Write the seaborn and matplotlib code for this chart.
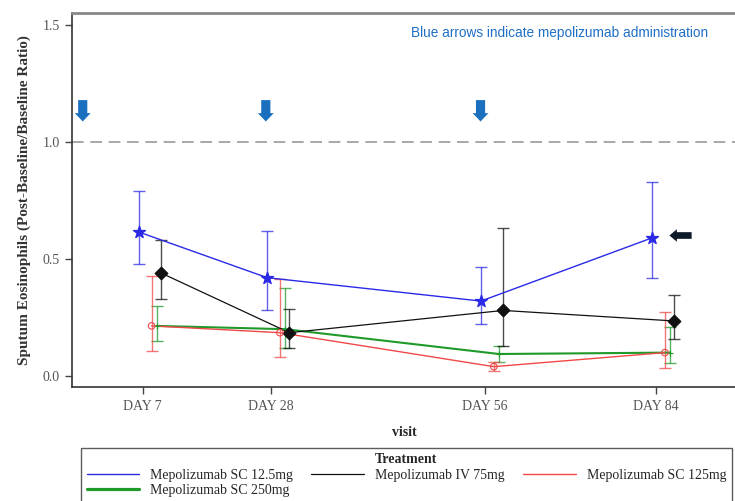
import numpy as np
import pandas as pd
import matplotlib
matplotlib.use("Agg")
import matplotlib.pyplot as plt
import seaborn as sns

# Visits and their positions on the horizontal axis
visits = ["DAY 7", "DAY 28", "DAY 56", "DAY 84"]
visit_pos = [1, 4, 9, 13]

treatments = ["Mepolizumab SC 12.5mg", "Mepolizumab SC 250mg",
              "Mepolizumab IV 75mg", "Mepolizumab SC 125mg"]

# Geometric mean ratio and 95% CI per treatment
sc12_mean = [0.615, 0.42, 0.32, 0.59]
sc12_lo = [0.48, 0.28, 0.22, 0.42]
sc12_hi = [0.79, 0.62, 0.465, 0.83]

sc250_mean = [0.214, 0.20, 0.094, 0.10]
sc250_lo = [0.15, 0.12, 0.06, 0.055]
sc250_hi = [0.30, 0.375, 0.13, 0.21]

iv75_mean = [0.44, 0.185, 0.28, 0.235]
iv75_lo = [0.33, 0.12, 0.128, 0.16]
iv75_hi = [0.58, 0.285, 0.63, 0.346]

sc125_mean = [0.214, 0.185, 0.04, 0.10]
sc125_lo = [0.107, 0.08, 0.02, 0.035]
sc125_hi = [0.427, 0.415, 0.06, 0.275]

means = [sc12_mean, sc250_mean, iv75_mean, sc125_mean]
lows = [sc12_lo, sc250_lo, iv75_lo, sc125_lo]
highs = [sc12_hi, sc250_hi, iv75_hi, sc125_hi]

# Drawing styles
colors = {"Mepolizumab SC 12.5mg": "#2a2ae6",
          "Mepolizumab SC 250mg": "#1f9a2a",
          "Mepolizumab IV 75mg": "#111111",
          "Mepolizumab SC 125mg": "#f04848"}
dodge = {"Mepolizumab SC 12.5mg": -0.09,
         "Mepolizumab SC 250mg": 0.33,
         "Mepolizumab IV 75mg": 0.43,
         "Mepolizumab SC 125mg": 0.21}
markers = {"Mepolizumab SC 12.5mg": "*",
           "Mepolizumab SC 250mg": "+",
           "Mepolizumab IV 75mg": "D",
           "Mepolizumab SC 125mg": "o"}
widths = {"Mepolizumab SC 12.5mg": 1.0,
          "Mepolizumab SC 250mg": 1.5,
          "Mepolizumab IV 75mg": 0.9,
          "Mepolizumab SC 125mg": 1.0}

# Administration arrows (positions on the visit axis)
dose_pos = [-0.4, 3.88, 8.9]

rows = []
for t, m, lo, hi in zip(treatments, means, lows, highs):
    for v, p, mv, l, h in zip(visits, visit_pos, m, lo, hi):
        rows.append(dict(Treatment=t, visit=v, x=p + dodge[t], ratio=mv, lo=l, hi=h))
df = pd.DataFrame(rows)

sns.set_theme(style="white")
plt.rcParams["font.family"] = ["Liberation Serif", "DejaVu Serif"]

fig = plt.figure(figsize=(7.35, 5.01), dpi=100)
ax = fig.add_axes([0.098, 0.2275, 0.905, 0.747])

ax.axhline(1.0, color="#9a9a9a", lw=1.2, ls=(0, (7, 4)), zorder=1)

for t in treatments:
    sub = df[df.Treatment == t]
    sns.lineplot(data=sub, x="x", y="ratio", color=colors[t], lw=widths[t],
                 ax=ax, legend=False, zorder=3, estimator=None, sort=True)
    ax.errorbar(sub.x, sub.ratio,
                yerr=[sub.ratio - sub.lo, sub.hi - sub.ratio],
                fmt="none", ecolor=colors[t], elinewidth=1.0, capsize=4,
                capthick=1.0, alpha=0.75, zorder=2)
    mk = markers[t]
    if mk == "o":
        ax.scatter(sub.x, sub.ratio, marker="o", s=22, facecolors="none",
                   edgecolors=colors[t], linewidths=0.8, zorder=4)
    elif mk == "+":
        ax.scatter(sub.x, sub.ratio, marker="+", s=20, color=colors[t],
                   linewidths=0.8, zorder=4)
    else:
        ax.scatter(sub.x, sub.ratio, marker=mk, s=80 if mk == "*" else 40,
                   color=colors[t], edgecolors=colors[t], zorder=4)

# Dosing arrows
for p in dose_pos:
    ax.annotate("", xy=(p, 1.075), xytext=(p, 1.19),
                arrowprops=dict(arrowstyle="simple,head_length=0.5,head_width=0.95,tail_width=0.55",
                                color="#1b6fbf", lw=0))
# Last observation marker arrow
ax.annotate("", xy=(13.25, 0.60), xytext=(13.9, 0.60),
            arrowprops=dict(arrowstyle="simple,head_length=0.45,head_width=0.75,tail_width=0.4",
                            color="#0c1a2a", lw=0))

ax.text(10.74, 1.465, "Blue arrows indicate mepolizumab administration",
        color="#1f6fc6", fontsize=9.8, family=["Liberation Sans", "DejaVu Sans"],
        ha="center", va="center")

ax.set_xlim(-0.65, 14.9)
ax.set_ylim(-0.047, 1.551)
ax.set_xticks(visit_pos)
ax.set_xticklabels(visits)
ax.set_yticks([0.0, 0.5, 1.0, 1.5])
ax.set_yticklabels(["0.0", "0.5", "1.0", "1.5"])
ax.tick_params(axis="both", which="major", length=5, width=1.0, color="#444444",
               labelsize=10, labelcolor="#555555", bottom=True, left=True, pad=4)

for s in ["left", "bottom"]:
    ax.spines[s].set_color("#333333")
    ax.spines[s].set_linewidth(1.2)
ax.spines["top"].set_color("#888888")
ax.spines["top"].set_linewidth(2.0)
ax.spines["right"].set_visible(False)

ax.set_xlabel("visit", fontsize=10, fontweight="bold", labelpad=10)
ax.set_ylabel("Sputum Eosinophils (Post-Baseline/Baseline Ratio)", fontsize=11,
              fontweight="bold", labelpad=8, color="#333333")

handles = [plt.Line2D([], [], color=colors[t], lw=widths[t] + (0.8 if t == "Mepolizumab SC 250mg" else 0))
           for t in treatments]
leg = fig.legend(handles, treatments, title="Treatment", ncol=3,
                 loc="upper center", bbox_to_anchor=(0.553, 0.106),
                 fontsize=10, title_fontproperties={"weight": "bold", "size": 10},
                 frameon=True, fancybox=False, edgecolor="#333333",
                 handlelength=3.8, handletextpad=0.8, borderaxespad=0.0,
                 borderpad=0.4, labelspacing=0.15, columnspacing=1.3)
leg.get_frame().set_linewidth(1.0)

fig.savefig("out.png", dpi=100)
